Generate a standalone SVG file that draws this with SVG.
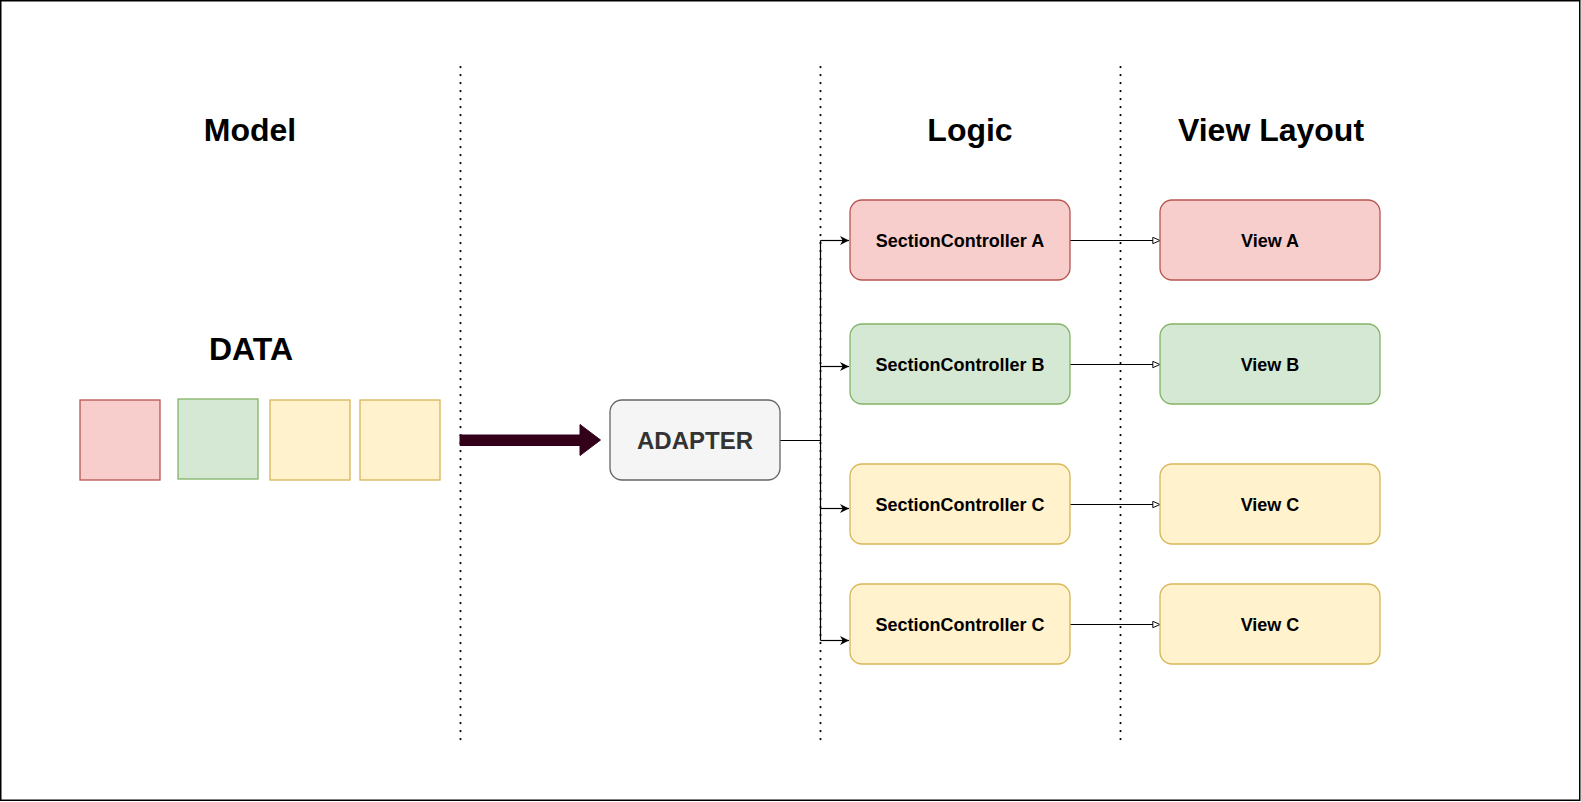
<svg xmlns="http://www.w3.org/2000/svg" width="1581" height="802" viewBox="0 0 1581 802">
<style>
text{font-family:"Liberation Sans",Arial,Helvetica,sans-serif;font-weight:bold;text-anchor:middle;fill:#000}
.title{font-size:32px}
.lbl{font-size:18px}
.red{fill:#f8cecc;stroke:#b85450;stroke-width:1.3}
.green{fill:#d5e8d4;stroke:#82b366;stroke-width:1.3}
.yellow{fill:#fff2cc;stroke:#d6b656;stroke-width:1.3}
.sep{stroke:#000;stroke-width:2.2;stroke-linecap:round;stroke-dasharray:0.1 7.9;fill:none}
.edge{stroke:#000;stroke-width:1.2;fill:none}
</style>
<defs>
<marker id="filled" viewBox="0 0 10 10" refX="10" refY="5" markerWidth="9" markerHeight="9" markerUnits="userSpaceOnUse" orient="auto">
<path d="M0,0 L10,5 L0,10 L3,5 Z" fill="#000"/>
</marker>
<marker id="open" viewBox="0 0 10 10" refX="9.5" refY="5" markerWidth="8" markerHeight="8" markerUnits="userSpaceOnUse" orient="auto">
<path d="M0.5,1 L9.5,5 L0.5,9 Z" fill="#fff" stroke="#000" stroke-width="1.2"/>
</marker>
</defs>
<rect x="0.75" y="0.75" width="1579" height="799.5" fill="#fff" stroke="#000" stroke-width="1.5"/>

<g id="separators">
<line class="sep" x1="460.5" y1="67" x2="460.5" y2="740"/>
<line class="sep" x1="820.5" y1="67" x2="820.5" y2="740"/>
<line class="sep" x1="1120.5" y1="67" x2="1120.5" y2="740"/>
</g>

<g id="titles">
<text class="title" x="250" y="141">Model</text>
<text class="title" x="970" y="141">Logic</text>
<text class="title" x="1271" y="141">View Layout</text>
</g>

<g id="data">
<text class="title" x="251" y="360">DATA</text>
<rect id="data-red" class="red" x="80" y="400" width="80" height="80"/>
<rect id="data-green" class="green" x="178" y="399" width="80" height="80"/>
<rect id="data-yellow1" class="yellow" x="270" y="400" width="80" height="80"/>
<rect id="data-yellow2" class="yellow" x="360" y="400" width="80" height="80"/>
</g>

<g id="connectors">
<path id="big-arrow" d="M460,435 L580,435 L580,424.5 L600.5,440 L580,455.5 L580,445.5 L460,445.5 Z" fill="#33001a" stroke="#33001a" stroke-width="1"/>
<path class="edge" d="M780,440.5 L820.5,440.5"/>
<path class="edge" d="M820.5,240.5 L820.5,640.5"/>
<path class="edge" d="M820.5,240.5 L849,240.5" marker-end="url(#filled)"/>
<path class="edge" d="M820.5,366.5 L849,366.5" marker-end="url(#filled)"/>
<path class="edge" d="M820.5,508.5 L849,508.5" marker-end="url(#filled)"/>
<path class="edge" d="M820.5,640.5 L849,640.5" marker-end="url(#filled)"/>
<path class="edge" d="M1070,240.5 L1160,240.5" marker-end="url(#open)"/>
<path class="edge" d="M1070,364.5 L1160,364.5" marker-end="url(#open)"/>
<path class="edge" d="M1070,504.5 L1160,504.5" marker-end="url(#open)"/>
<path class="edge" d="M1070,624.5 L1160,624.5" marker-end="url(#open)"/>
</g>

<g id="adapter">
<rect x="610" y="400" width="170" height="80" rx="12" ry="12" fill="#f5f5f5" stroke="#666" stroke-width="1.3"/>
<text x="695" y="448.5" style="font-size:24px;fill:#333">ADAPTER</text>
</g>

<g id="sc-a">
<rect class="red" x="850" y="200" width="220" height="80" rx="12" ry="12"/>
<text class="lbl" x="960" y="246.5">SectionController A</text>
</g>
<g id="sc-b">
<rect class="green" x="850" y="324" width="220" height="80" rx="12" ry="12"/>
<text class="lbl" x="960" y="370.5">SectionController B</text>
</g>
<g id="sc-c1">
<rect class="yellow" x="850" y="464" width="220" height="80" rx="12" ry="12"/>
<text class="lbl" x="960" y="510.5">SectionController C</text>
</g>
<g id="sc-c2">
<rect class="yellow" x="850" y="584" width="220" height="80" rx="12" ry="12"/>
<text class="lbl" x="960" y="630.5">SectionController C</text>
</g>

<g id="view-a">
<rect class="red" x="1160" y="200" width="220" height="80" rx="12" ry="12"/>
<text class="lbl" x="1270" y="246.5">View A</text>
</g>
<g id="view-b">
<rect class="green" x="1160" y="324" width="220" height="80" rx="12" ry="12"/>
<text class="lbl" x="1270" y="370.5">View B</text>
</g>
<g id="view-c1">
<rect class="yellow" x="1160" y="464" width="220" height="80" rx="12" ry="12"/>
<text class="lbl" x="1270" y="510.5">View C</text>
</g>
<g id="view-c2">
<rect class="yellow" x="1160" y="584" width="220" height="80" rx="12" ry="12"/>
<text class="lbl" x="1270" y="630.5">View C</text>
</g>
</svg>
